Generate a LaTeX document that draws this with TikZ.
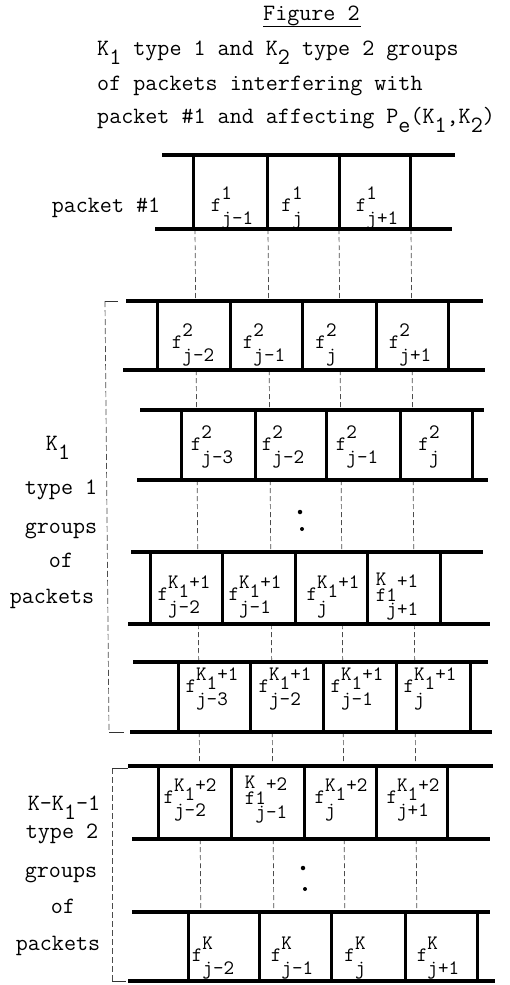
\documentclass[tikz,border=0pt]{standalone}
\usepackage{fontspec}
\newcommand\hsz{\ttfamily\fontsize{23.4}{27}\selectfont}
\newcommand\csz{\ttfamily\fontsize{20.5}{24}\selectfont}
\newcommand\lo[1]{\raisebox{-.42em}{#1}}
% f with superscript and subscript (typewriter half-line style)
\newcommand\fa[2]{f\rlap{\raisebox{.58em}{#1}}\raisebox{-.66em}{#2}}
% f with K_1+n superscript
\newcommand\fb[2]{f\rlap{\raisebox{-.68em}{#2}}\raisebox{.55em}{K}\raisebox{.12em}{1}\raisebox{.55em}{#1}}
% variant with K above f
\newcommand\fc[2]{\rlap{\raisebox{.76em}{K}}f\rlap{\raisebox{-.7em}{#2}}1\raisebox{.66em}{#1}}
\newcommand\pkrow[7]{%
  \draw[rail] (#3,#1) -- (#4,#1);
  \draw[rail] (#5,#2) -- (#6,#2);
  \foreach \bx in {#7} {\draw[bar] (\bx,#1) -- (\bx,#2);}
}
\tikzset{
  rail/.style={line width=3.6pt},
  bar/.style={line width=3pt},
  guide/.style={line width=.7pt, black!70, dash pattern=on 5pt off 3pt},
  brk/.style={line width=.7pt, black!70, dash pattern=on 6pt off 3pt},
  tick/.style={line width=.8pt, black!80},
  hd/.style={font=\hsz, inner sep=0pt, anchor=base west},
  lbl/.style={font=\hsz, inner sep=0pt, anchor=base},
  cell/.style={font=\csz, inner sep=0pt, anchor=base},
  dotm/.style={fill=black, circle, inner sep=0pt, minimum size=4.5pt}
}
\begin{document}
\begin{tikzpicture}[x=1pt, y=-1pt]
\useasboundingbox (0,0) rectangle (509,985);
\fill[white] (0,0) rectangle (509,985);

% header
\node[hd] (title) at (263,20) {Figure 2};
\draw[line width=.9pt] (263,26) -- (361,26);
\node[hd] (h1) at (97,55) {K\lo{1} type 1 and K\lo{2} type 2 groups};
\node[hd] (h2) at (97,90) {of packets interfering with};
\node[hd] (h3) at (97,123) {packet \#1 and affecting P\lo{e}(K\lo{1},K\lo{2})};

% left labels
\node[lbl] (lp1) at (106,212) {packet \#1};
\node[lbl] (lk1) at (58,450) {K\lo{1}};
\node[lbl] (lt1) at (61,494) {type 1};
\node[lbl] (lg1) at (61,533) {groups};
\node[lbl] (lo1) at (61,567) {of};
\node[lbl] (lq1) at (52,603) {packets};
\node[lbl] (lk2) at (64,810) {K-K\lo{1}-1};
\node[lbl] (lt2) at (62,838) {type 2};
\node[lbl] (lg2) at (61,877) {groups};
\node[lbl] (lo2) at (63,913) {of};
\node[lbl] (lq2) at (58,950) {packets};

% guide lines (frame boundaries of packet #1)
\foreach \g in {195,268,339,411} {
  \foreach \ya/\yb in {229/301, 370/410, 480/552, 624/662, 732/766, 839/912} {
    \draw[guide] ({\g+(\ya-229)*0.0085},\ya) -- ({\g+(\yb-229)*0.0085},\yb);
  }
}

% brackets
\draw[brk] (105,301) -- (109,732);
\draw[tick] (105,301) -- (118,301);
\draw[tick] (109,732) -- (124,732);
\draw[brk] (112,768) -- (112,981);
\draw[tick] (112,768) -- (128,768);
\draw[tick] (112,981) -- (126,981);

% packet rows
\pkrow{155}{229}{162}{455}{155}{452}{193,267,339,410}
\pkrow{301}{370}{126}{483}{123}{485}{157,230,302,376,448}
\pkrow{410}{480}{140}{484}{137}{488}{181,255,326,400,472}
\pkrow{552}{624}{131}{483}{128}{490}{150,222,295,367,440}
\pkrow{662}{732}{133}{488}{130}{492}{178,250,323,396,470}
\pkrow{766}{839}{128}{493}{132}{490}{158,231,304,376,447}
\pkrow{912}{981}{132}{490}{128}{495}{188,259,331,405,477}

% row 1
\node[cell] (a1) at (232,211) {\fa{1}{j-1}};
\node[cell] (a2) at (292,211) {\fa{1}{j}};
\node[cell] (a3) at (377,211) {\fa{1}{j+1}};
% row 2
\node[cell] (b1) at (193,348) {\fa{2}{j-2}};
\node[cell] (b2) at (264,348) {\fa{2}{j-1}};
\node[cell] (b3) at (326,348) {\fa{2}{j}};
\node[cell] (b4) at (410,348) {\fa{2}{j+1}};
% row 3
\node[cell] (c1) at (212,450) {\fa{2}{j-3}};
\node[cell] (c2) at (283,450) {\fa{2}{j-2}};
\node[cell] (c3) at (357,450) {\fa{2}{j-1}};
\node[cell] (c4) at (429,450) {\fa{2}{j}};
% dots
\node[dotm] (d1) at (300,512) {};
\node[dotm, minimum size=4pt] (d2) at (302,529) {};
% row 4
\node[cell] (e1) at (184,600) {\fb{+1}{j-2}};
\node[cell] (e2) at (255,600) {\fb{+1}{j-1}};
\node[cell] (e3) at (333,600) {\fb{+1}{j}};
\node[cell] (e4) at (397,601) {\fc{+1}{j+1}};
% row 5
\node[cell] (g1) at (212,692) {\fb{+1}{j-3}};
\node[cell] (g2) at (285,692) {\fb{+1}{j-2}};
\node[cell] (g3) at (357,692) {\fb{+1}{j-1}};
\node[cell] (g4) at (430,692) {\fb{+1}{j}};
% row 6
\node[cell] (m1) at (190,803) {\fb{+2}{j-2}};
\node[cell] (m2) at (266,804) {\fc{+2}{j-1}};
\node[cell] (m3) at (341,803) {\fb{+2}{j}};
\node[cell] (m4) at (413,803) {\fb{+2}{j+1}};
% dots
\node[dotm] (d3) at (303,868) {};
\node[dotm, minimum size=4pt] (d4) at (305,889) {};
% row 7
\node[cell] (n1) at (213,961) {\fa{K}{j-2}};
\node[cell] (n2) at (292,961) {\fa{K}{j-1}};
\node[cell] (n3) at (355,961) {\fa{K}{j}};
\node[cell] (n4) at (438,961) {\fa{K}{j+1}};
\end{tikzpicture}
\end{document}
